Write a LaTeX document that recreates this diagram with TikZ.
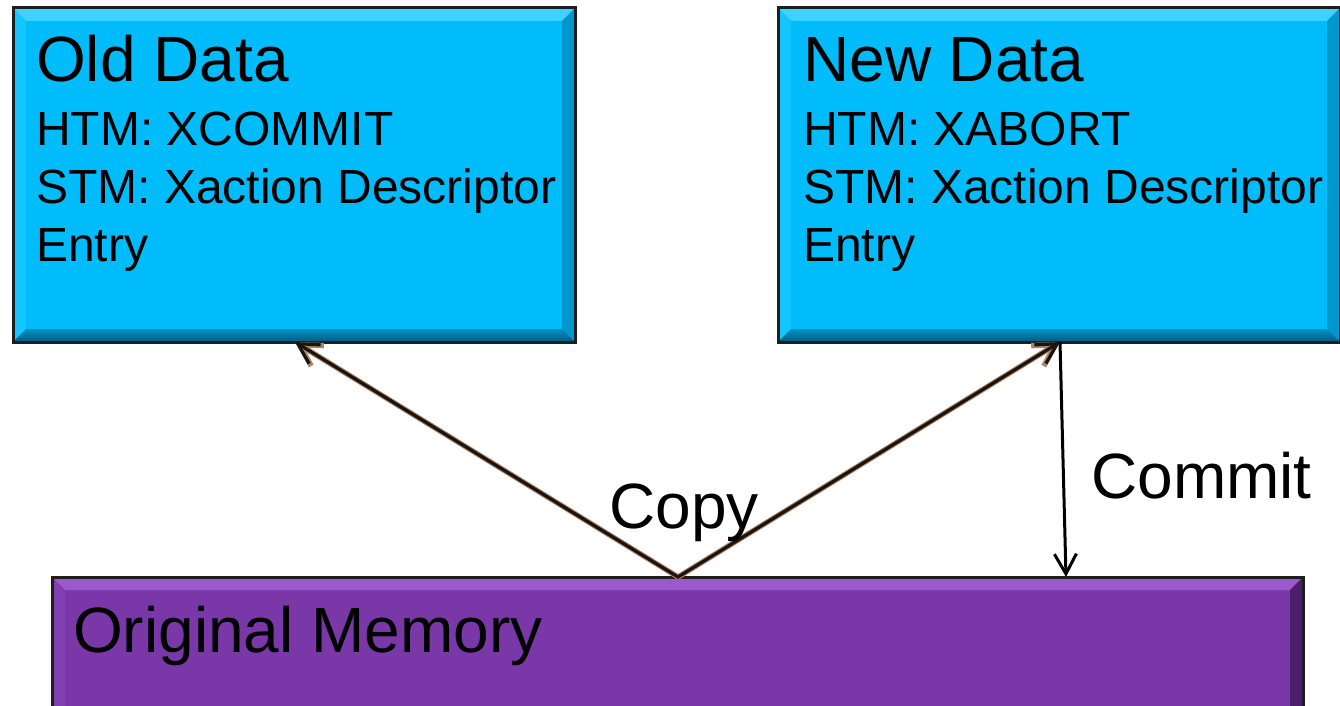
\documentclass[tikz,border=0pt]{standalone}
\usepackage{fontspec}
\setmainfont{Liberation Sans}
\usetikzlibrary{arrows.meta,calc}

\definecolor{skyfill}{HTML}{00BCFA}
\definecolor{skytop}{HTML}{3DD3FF}
\definecolor{skyleft}{HTML}{14C6FF}
\definecolor{skyright}{HTML}{0098CC}
\definecolor{skybotA}{HTML}{0092C4}
\definecolor{skybotB}{HTML}{005A7C}
\definecolor{plumfill}{HTML}{7937A8}
\definecolor{plumtop}{HTML}{9C58CC}
\definecolor{plumleft}{HTML}{823FB2}
\definecolor{plumright}{HTML}{4B1F6C}
\definecolor{plumbotA}{HTML}{5E2886}
\definecolor{plumbotB}{HTML}{45195F}
\definecolor{edge}{HTML}{1E1E1E}
\definecolor{wire}{HTML}{1C130D}
\definecolor{wireglow}{HTML}{A8866C}

\tikzset{
  % raised panel: flat face with four bevelled edges
  bevelbox/.style n args={6}{
    draw=edge, line width=3pt, fill=#1, inner sep=0pt, outer sep=0pt,
    path picture={
      \def\bw{13pt}
      \coordinate (pnw) at (path picture bounding box.north west);
      \coordinate (pne) at (path picture bounding box.north east);
      \coordinate (psw) at (path picture bounding box.south west);
      \coordinate (pse) at (path picture bounding box.south east);
      \coordinate (inw) at ([xshift=\bw,yshift=-\bw]pnw);
      \coordinate (ine) at ([xshift=-\bw,yshift=-\bw]pne);
      \coordinate (isw) at ([xshift=\bw,yshift=\bw]psw);
      \coordinate (ise) at ([xshift=-\bw,yshift=\bw]pse);
      \fill[#2] (pnw) -- (pne) -- (ine) -- (inw) -- cycle;
      \fill[#3] (pnw) -- (inw) -- (isw) -- (psw) -- cycle;
      \fill[#4] (pne) -- (pse) -- (ise) -- (ine) -- cycle;
      \shade[top color=#5, bottom color=#6] (psw) -- (isw) -- (ise) -- (pse) -- cycle;
    }},
  databox/.style={bevelbox={skyfill}{skytop}{skyleft}{skyright}{skybotA}{skybotB},
    minimum width=562pt, minimum height=334pt, anchor=north west},
  membox/.style={bevelbox={plumfill}{plumtop}{plumleft}{plumright}{plumbotA}{plumbotB},
    minimum width=1251pt, minimum height=160pt, anchor=north west},
  bigtxt/.style={anchor=base west, inner sep=0pt, font=\fontsize{64}{64}\selectfont},
  smalltxt/.style={anchor=base west, inner sep=0pt, font=\fontsize{48}{48}\selectfont},
  glowline/.style={draw=wireglow, line width=5.4pt,
    -{Straight Barb[length=21pt,width=24pt,line width=5.4pt]}},
  copyline/.style={draw=wire, line width=3.2pt,
    -{Straight Barb[length=20pt,width=22pt,line width=3.2pt]}},
  commitline/.style={draw=black, line width=3pt,
    -{Straight Barb[length=20pt,width=22pt,line width=3pt]}}
}

\begin{document}
\begin{tikzpicture}[x=1pt,y=-1pt]
  \useasboundingbox (0,0) rectangle (1340,706);
  \clip (0,0) rectangle (1340,706);

  % the three panels
  \node[databox] (old) at (13,8) {};
  \node[databox] (new) at (778,8) {};
  \node[membox] (mem) at (52,577) {};

  % panel texts
  \node[bigtxt]   (oldtitle) at (36,82)  {Old Data};
  \node[smalltxt] (oldhtm)   at (36,145) {HTM: XCOMMIT};
  \node[smalltxt] (oldstm)   at (36,203) {STM: Xaction Descriptor};
  \node[smalltxt] (oldent)   at (36,261) {Entry};

  \node[bigtxt]   (newtitle) at (803,82)  {New Data};
  \node[smalltxt] (newhtm)   at (803,145) {HTM: XABORT};
  \node[smalltxt] (newstm)   at (803,203) {STM: Xaction Descriptor};
  \node[smalltxt] (newent)   at (803,261) {Entry};

  \node[bigtxt] (memtitle) at (73,652) {Original Memory};

  % connection points on the panel edges
  \coordinate (split)   at ([xshift=626pt]mem.north west);
  \coordinate (oldfoot) at ([xshift=282pt]old.south west);
  \coordinate (newfoot) at ([xshift=282pt]new.south west);
  \coordinate (memfoot) at ([xshift=1014pt]mem.north west);

  % copy arrows (soft halo under a dark stroke)
  \draw[glowline] (split) -- (oldfoot);
  \draw[glowline] (split) -- (newfoot);
  \draw[copyline] (split) -- (oldfoot);
  \draw[copyline] (split) -- (newfoot);

  % commit arrow
  \draw[commitline] (newfoot) -- (memfoot);

  % arrow labels
  \node[bigtxt] (copylbl)   at (609,528) {Copy};
  \node[bigtxt] (commitlbl) at (1091,498) {Commit};
\end{tikzpicture}
\end{document}
